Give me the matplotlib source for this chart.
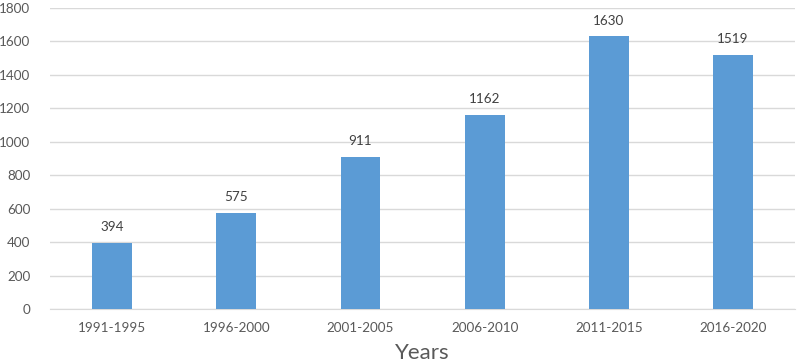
import numpy as np
import matplotlib.pyplot as plt

periods = ['1991-1995', '1996-2000', '2001-2005', '2006-2010', '2011-2015', '2016-2020']
counts = [394, 575, 911, 1162, 1630, 1519]

plt.rcParams['font.family'] = ['Lato', 'DejaVu Sans']

fig = plt.figure(figsize=(7.97, 3.62), dpi=100)
ax = fig.add_axes([0.0627, 0.1464, 0.935, 0.8316])

x = np.arange(len(periods))
ax.bar(x, counts, width=0.32, color='#5B9BD5', zorder=3)

for xi, v in zip(x, counts):
    ax.annotate(str(v), (xi, v), xytext=(0, 7), textcoords='offset points',
                ha='center', va='bottom', fontsize=9.7, color='#404040')

ax.set_xlim(-0.5, len(periods) - 0.5)
ax.set_ylim(0, 1800)
ax.set_yticks(range(0, 1801, 200))
ax.set_xticks(x)
ax.set_xticklabels(periods)
ax.tick_params(axis='both', length=0, labelsize=9.7, labelcolor='#595959')
ax.tick_params(axis='y', pad=14)
ax.tick_params(axis='x', pad=9)
ax.grid(axis='y', color='#D9D9D9', linewidth=1, zorder=0)
for s in ['top', 'right', 'left']:
    ax.spines[s].set_visible(False)
ax.spines['bottom'].set_color('#D9D9D9')

ax.set_xlabel('Years', fontsize=16, color='#595959', labelpad=7)

fig.savefig('out.png', dpi=100)
